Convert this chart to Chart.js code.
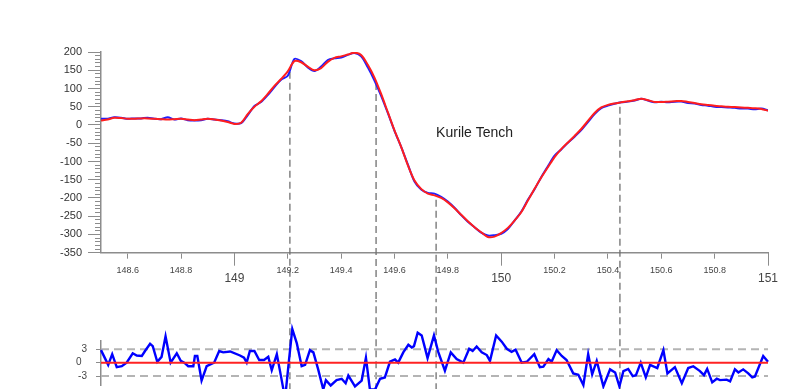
<!doctype html>
<html>

<head>
    <title>Kurile Tench</title>
    <script src="https://cdn.jsdelivr.net/npm/chart.js@4.4.1/dist/chart.umd.min.js"></script>
    <style>
    body { margin: 0; background: #fff; overflow: hidden; }
    #top { position: absolute; left: 0; top: 0; }
    #bottom { position: absolute; left: 0; top: 300px; }
    </style>
</head>

<body>
    <canvas id="top" width="807" height="300"></canvas>
    <canvas id="bottom" width="807" height="100"></canvas>

    <script>
    // longitude (x) for the two top curves
    var lon = [
        148.5, 148.525, 148.55, 148.575, 148.6, 148.625, 148.65, 148.675, 148.7, 148.725,
        148.75, 148.775, 148.8, 148.825, 148.85, 148.875, 148.9, 148.925, 148.95, 148.975,
        149, 149.025, 149.05, 149.075, 149.1, 149.125, 149.15, 149.175, 149.2, 149.225,
        149.25, 149.275, 149.3, 149.325, 149.35, 149.375, 149.4, 149.425, 149.45, 149.475,
        149.5, 149.525, 149.55, 149.575, 149.6, 149.625, 149.65, 149.675, 149.7, 149.725,
        149.75, 149.775, 149.8, 149.825, 149.85, 149.875, 149.9, 149.925, 149.95, 149.975,
        150, 150.025, 150.05, 150.075, 150.1, 150.125, 150.15, 150.175, 150.2, 150.225,
        150.25, 150.275, 150.3, 150.325, 150.35, 150.375, 150.4, 150.425, 150.45, 150.475,
        150.5, 150.525, 150.55, 150.575, 150.6, 150.625, 150.65, 150.675, 150.7, 150.725,
        150.75, 150.775, 150.8, 150.825, 150.85, 150.875, 150.9, 150.925, 150.95, 150.975,
        151
    ];

    // observed (blue)
    var observed = [
        17, 17, 21, 20, 17, 18, 18, 20, 17, 16,
        21, 15, 18, 13, 12, 13, 17, 15, 13, 10,
        4, 5, 27, 52, 63, 82, 104, 124, 135, 181,
        175, 158, 148, 160, 178, 183, 185, 192, 197, 188,
        158, 122, 80, 33, -16, -60, -108, -155, -177, -186,
        -188, -197, -210, -227, -247, -265, -280, -295, -303, -302,
        -298, -285, -262, -238, -205, -176, -143, -113, -84, -67,
        -49, -32, -14, 8, 30, 46, 53, 58, 62, 64,
        67, 72, 67, 62, 64, 62, 64, 64, 60, 59,
        55, 53, 50, 49, 48, 47, 45, 45, 43, 45,
        40
    ];

    // model (red)
    var model = [
        12, 15, 20, 19, 17, 17, 18, 18, 17, 16,
        15, 16, 17, 15, 13, 15, 17, 15, 12, 8,
        3, 6, 30, 50, 65, 85, 107, 126, 147, 175,
        172, 160, 150, 156, 173, 184, 188, 193, 198, 192,
        165, 130, 85, 35, -15, -60, -110, -152, -175, -188,
        -193, -200, -212, -228, -246, -264, -280, -294, -307, -306,
        -296, -282, -262, -239, -207, -175, -144, -116, -88, -66,
        -48, -30, -11, 11, 33, 48, 55, 59, 62, 65,
        68, 72, 68, 63, 63, 64, 65, 66, 63, 60,
        57, 55, 53, 51, 50, 49, 48, 47, 46, 44,
        39
    ];

    // residual (blue, lower panel)
    var resX = [
        148.5, 148.527, 148.542, 148.559, 148.578, 148.596, 148.619, 148.634, 148.653, 148.665,
        148.684, 148.694, 148.711, 148.727, 148.742, 148.761, 148.784, 148.799, 148.812, 148.827,
        148.846, 148.852, 148.861, 148.877, 148.896, 148.924, 148.943, 148.958, 148.984, 149.021,
        149.036, 149.046, 149.058, 149.075, 149.093, 149.111, 149.127, 149.14, 149.159, 149.171,
        149.19, 149.205, 149.217, 149.234, 149.252, 149.265, 149.283, 149.296, 149.314, 149.333,
        149.343, 149.361, 149.383, 149.402, 149.417, 149.427, 149.452, 149.477, 149.493, 149.508,
        149.527, 149.546, 149.564, 149.583, 149.602, 149.614, 149.633, 149.652, 149.665, 149.673,
        149.687, 149.702, 149.712, 149.724, 149.748, 149.764, 149.789, 149.811, 149.833, 149.858,
        149.88, 149.893, 149.908, 149.927, 149.946, 149.958, 149.981, 150.002, 150.021, 150.039,
        150.054, 150.077, 150.096, 150.124, 150.145, 150.158, 150.177, 150.189, 150.208, 150.227,
        150.245, 150.27, 150.289, 150.308, 150.326, 150.341, 150.358, 150.383, 150.408, 150.427,
        150.443, 150.458, 150.476, 150.493, 150.505, 150.523, 150.542, 150.558, 150.585, 150.608,
        150.623, 150.651, 150.677, 150.701, 150.72, 150.745, 150.76, 150.772, 150.791, 150.808,
        150.82, 150.845, 150.858, 150.876, 150.889, 150.907, 150.926, 150.941, 150.951, 150.982,
        151
    ];
    var resY = [
        2.8, -0.5, 1.9, -1.0, -0.8, 0, 2.1, 1.6, 1.5, 2.6,
        4.2, 3.7, 0.2, 1.3, 5.9, 0, 2.1, 0.4, 0, -0.8,
        -0.8, 1.5, 1.5, -4, -0.8, 0, 2.6, 2.3, 2.5, 1.6,
        1.1, 0, 2.6, 2.6, 0.6, 0.6, 1.3, -1.7, 1.9, -1.9,
        -8, 0.8, 7.5, 4.3, -0.8, -0.5, 2.8, 2.3, -1.5, -6,
        -3.9, -5.1, -3.9, -3.6, -4.6, -2.9, -5.3, -4, 1.1, -6,
        -6, -3.6, -3.3, 0.2, 0.7, 0, 2.3, 4.0, 3.4, 3.7,
        6.7, 6.1, 3.8, 1.0, 6.1, 2.4, -1.8, 2.3, 0.8, 0,
        3.1, 2.6, 3.6, 2.3, 1.7, 0.4, 6.1, 4.7, 3.1, 2.4,
        2.9, 0, 0.2, 1.9, -1.0, -0.9, 0.8, 0.2, 2.8, 1.5,
        0.6, -2.4, -2.7, -5, 1.9, -2.6, 0.4, -5.3, -1.5, -2.2,
        -5.3, -1.9, -1.4, -3.0, -2.8, 0, -3.3, -0.5, -1.2, 2.8,
        -2.4, -1.0, -4.6, -1.2, -0.8, -1.9, -2.8, -1.4, -4.4, -3.6,
        -3.9, -3.8, -4.2, -1.5, -2.2, -1.5, -2.4, -3.3, -3.1, 1.5,
        0.2
    ];

    // dashed marker lines: position and the value where they start on the curve
    var markerX = [149.208, 149.531, 149.756, 150.445];
    var markerTop = [146, 115, -205, 50];

    var xMajorTicks = [149, 150, 151];
    var xAllTicks = [148.6, 148.8, 149, 149.2, 149.4, 149.6, 149.8, 150, 150.2, 150.4, 150.6, 150.8, 151];
    var resTicks = [-3, 0, 3];
    var resBand = [-3, 3];
    var title = 'Kurile Tench';
    var titleAt = [149.756, -23];

    Chart.defaults.font.family = "'Liberation Sans', Arial, sans-serif";
    var axisGray = '#8c8c8c';

    function pairs(xs, ys) {
        return xs.map(function(x, i) { return {x: x, y: ys[i]}; });
    }
    function fixWidth(w) { return function(s) { s.width = w; }; }
    function fixHeight(h) { return function(s) { s.height = h; }; }
    function setTicks(list) {
        return function(s) { s.ticks = list.map(function(v) { return {value: v}; }); };
    }
    function str(v) { return String(v); }
    function isMajor(ctx) {
        return ctx.tick && xMajorTicks.indexOf(ctx.tick.value) >= 0;
    }

    var markerSets = markerX.map(function(m, i) {
        return {
            data: [{x: m, y: markerTop[i]}, {x: m, y: -520}],
            borderColor: '#707070', borderWidth: 1.3, borderDash: [7, 4],
            pointRadius: 0, clip: false
        };
    });

    var titlePlugin = {
        id: 'titleText',
        afterDatasetsDraw: function(chart) {
            var ctx = chart.ctx;
            ctx.save();
            ctx.font = "14px 'Liberation Sans', Arial, sans-serif";
            ctx.fillStyle = '#222';
            ctx.textBaseline = 'middle';
            ctx.fillText(title, chart.scales.x.getPixelForValue(titleAt[0]), chart.scales.y.getPixelForValue(titleAt[1]));
            ctx.restore();
        }
    };

    var topChart = new Chart(document.getElementById('top').getContext('2d'), {
        type: 'line',
        data: {
            datasets: [
                {data: pairs(lon, model), borderColor: '#ff1e1e', borderWidth: 2, pointRadius: 0, tension: 0.3},
                {data: pairs(lon, observed), borderColor: '#1e1eff', borderWidth: 2, pointRadius: 0, tension: 0.3}
            ].concat(markerSets)
        },
        options: {
            responsive: false,
            animation: false,
            layout: {padding: {left: 0, right: 39, top: 52, bottom: 0}},
            plugins: {legend: {display: false}, tooltip: {enabled: false}},
            scales: {
                x: {
                    type: 'linear', min: 148.5, max: 151, position: 'bottom', weight: 1,
                    afterFit: fixHeight(47.3), afterBuildTicks: setTicks(xAllTicks),
                    grid: {drawOnChartArea: false, tickLength: 6, tickColor: axisGray, tickWidth: 1},
                    border: {display: true, color: axisGray, width: 1.5},
                    ticks: {
                        callback: str, autoSkip: false, maxRotation: 0, padding: 6, color: '#444',
                        font: function(ctx) {
                            return isMajor(ctx) ? {size: 12, lineHeight: 2.25} : {size: 9, lineHeight: 1.33};
                        }
                    }
                },
                xm: {
                    axis: 'x', type: 'linear', min: 148.5, max: 151, position: 'bottom', weight: 0,
                    afterFit: fixHeight(0), afterBuildTicks: setTicks(xMajorTicks),
                    grid: {drawOnChartArea: false, tickLength: 13, tickColor: axisGray, tickWidth: 1},
                    border: {display: false},
                    ticks: {display: false, autoSkip: false}
                },
                y: {
                    type: 'linear', min: -350, max: 200, position: 'left', weight: 1,
                    afterFit: fixWidth(101),
                    grid: {drawOnChartArea: false, tickLength: 13, tickColor: axisGray, tickWidth: 1},
                    border: {display: true, color: axisGray, width: 1.5},
                    ticks: {stepSize: 50, callback: str, autoSkip: false, padding: 6, color: '#333', font: {size: 11}}
                },
                ym: {
                    axis: 'y', type: 'linear', min: -350, max: 200, position: 'left', weight: 0,
                    afterFit: fixWidth(0),
                    grid: {drawOnChartArea: false, tickLength: 6, tickColor: axisGray, tickWidth: 1},
                    border: {display: false},
                    ticks: {stepSize: 10, maxTicksLimit: 100, display: false, autoSkip: false}
                }
            }
        },
        plugins: [titlePlugin]
    });

    var resMarkers = markerX.map(function(m) {
        return {
            data: [{x: m, y: 20}, {x: m, y: -10}],
            borderColor: '#707070', borderWidth: 1.3, borderDash: [7, 4],
            pointRadius: 0, clip: false
        };
    });
    var bandSets = resBand.map(function(b) {
        return {
            data: [{x: 148.5, y: b}, {x: 151, y: b}],
            borderColor: '#b4b4b4', borderWidth: 2, borderDash: [8, 5], pointRadius: 0
        };
    });

    var bottomChart = new Chart(document.getElementById('bottom').getContext('2d'), {
        type: 'line',
        data: {
            datasets: [
                {data: [{x: 148.5, y: 0}, {x: 151, y: 0}], borderColor: '#ff2222', borderWidth: 2, pointRadius: 0},
                {data: pairs(resX, resY), borderColor: '#0000ff', borderWidth: 2.4, pointRadius: 0, clip: false}
            ].concat(bandSets, resMarkers)
        },
        options: {
            responsive: false,
            animation: false,
            layout: {padding: {left: 0, right: 39, top: 40.3, bottom: 11.7}},
            plugins: {legend: {display: false}, tooltip: {enabled: false}},
            scales: {
                x: {type: 'linear', min: 148.5, max: 151, display: false},
                y: {
                    type: 'linear', min: -5, max: 5, position: 'left',
                    afterFit: fixWidth(101), afterBuildTicks: setTicks(resTicks),
                    grid: {drawOnChartArea: false, tickLength: 5, tickColor: axisGray, tickWidth: 1},
                    border: {display: true, color: axisGray, width: 1.5},
                    ticks: {
                        callback: function(v) { return v === 0 ? '0  ' : String(v); },
                        autoSkip: false, padding: 9, color: '#444', font: {size: 10}
                    }
                }
            }
        }
    });
    </script>
</body>

</html>
